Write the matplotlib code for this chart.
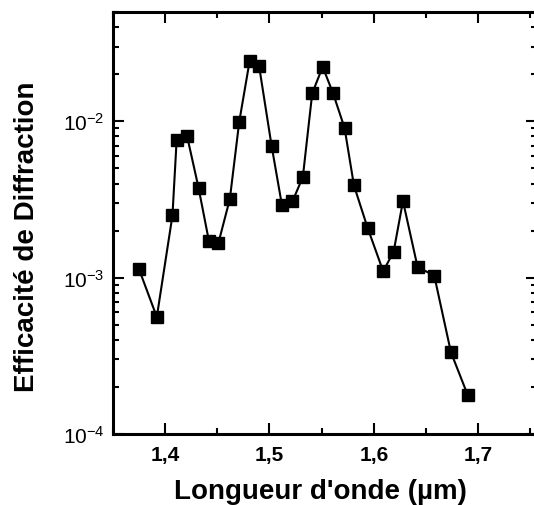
import matplotlib
matplotlib.use('Agg')
from matplotlib import pyplot as plt
from matplotlib.ticker import LogLocator, MultipleLocator, NullFormatter

# wavelength (um) and diffraction efficiency
wavelength = [1.375, 1.392, 1.407, 1.411, 1.421, 1.432, 1.442, 1.451, 1.462,
              1.471, 1.481, 1.490, 1.502, 1.512, 1.522, 1.532, 1.541, 1.551,
              1.561, 1.572, 1.581, 1.594, 1.609, 1.619, 1.628, 1.642, 1.658,
              1.674, 1.690]
efficiency = [1.13e-3, 5.6e-4, 2.5e-3, 7.55e-3, 8.05e-3, 3.76e-3, 1.71e-3,
              1.66e-3, 3.18e-3, 9.9e-3, 2.43e-2, 2.27e-2, 7.0e-3, 2.9e-3,
              3.07e-3, 4.4e-3, 1.51e-2, 2.23e-2, 1.51e-2, 9.06e-3, 3.89e-3,
              2.09e-3, 1.1e-3, 1.46e-3, 3.09e-3, 1.17e-3, 1.03e-3, 3.33e-4,
              1.78e-4]

x_ticks = [1.4, 1.5, 1.6, 1.7]
x_tick_labels = ['1,4', '1,5', '1,6', '1,7']
y_ticks = [1e-4, 1e-3, 1e-2]
y_tick_labels = [r'$10^{-4}$', r'$10^{-3}$', r'$10^{-2}$']


def main():
    plt.rcParams['font.family'] = ['Liberation Sans', 'DejaVu Sans']
    plt.rcParams['mathtext.fontset'] = 'custom'
    plt.rcParams['mathtext.rm'] = 'Liberation Sans'
    plt.rcParams['mathtext.it'] = 'Liberation Sans'
    fig = plt.figure(figsize=(5.34, 5.06), dpi=100)
    # right spine sits just past the picture edge, as in the scan
    ax = fig.add_axes([113 / 534, 71 / 506, 424 / 534, 422 / 506])

    ax.plot(wavelength, efficiency, color='black', lw=1.5,
            marker='s', markersize=9, markerfacecolor='black', markeredgecolor='black')

    ax.set_yscale('log')
    ax.set_xlim(1.35, 1.7565)
    ax.set_ylim(1e-4, 5e-2)

    ax.set_xticks(x_ticks)
    ax.set_xticklabels(x_tick_labels, fontsize=15, fontweight='bold')
    ax.xaxis.set_minor_locator(MultipleLocator(0.05))
    ax.set_yticks(y_ticks)
    ax.set_yticklabels(y_tick_labels, fontsize=15)
    ax.yaxis.set_minor_locator(LogLocator(base=10, subs=range(2, 10)))
    ax.yaxis.set_minor_formatter(NullFormatter())

    ax.tick_params(which='both', direction='in', top=True, right=True, width=1.5)
    ax.tick_params(which='major', length=8, pad=6)
    ax.tick_params(axis='x', which='major', pad=8)
    ax.tick_params(which='minor', length=4)
    for s in ax.spines.values():
        s.set_linewidth(2.2)

    ax.set_xlabel("Longueur d'onde (µm)", fontsize=20, fontweight='bold')
    ax.set_ylabel('Efficacité de Diffraction', fontsize=20, fontweight='bold')
    ax.xaxis.set_label_coords(0.49, -0.104)
    ax.yaxis.set_label_coords(-0.172, 0.47)

    fig.savefig('out.png', dpi=100)


if __name__ == '__main__':
    main()
